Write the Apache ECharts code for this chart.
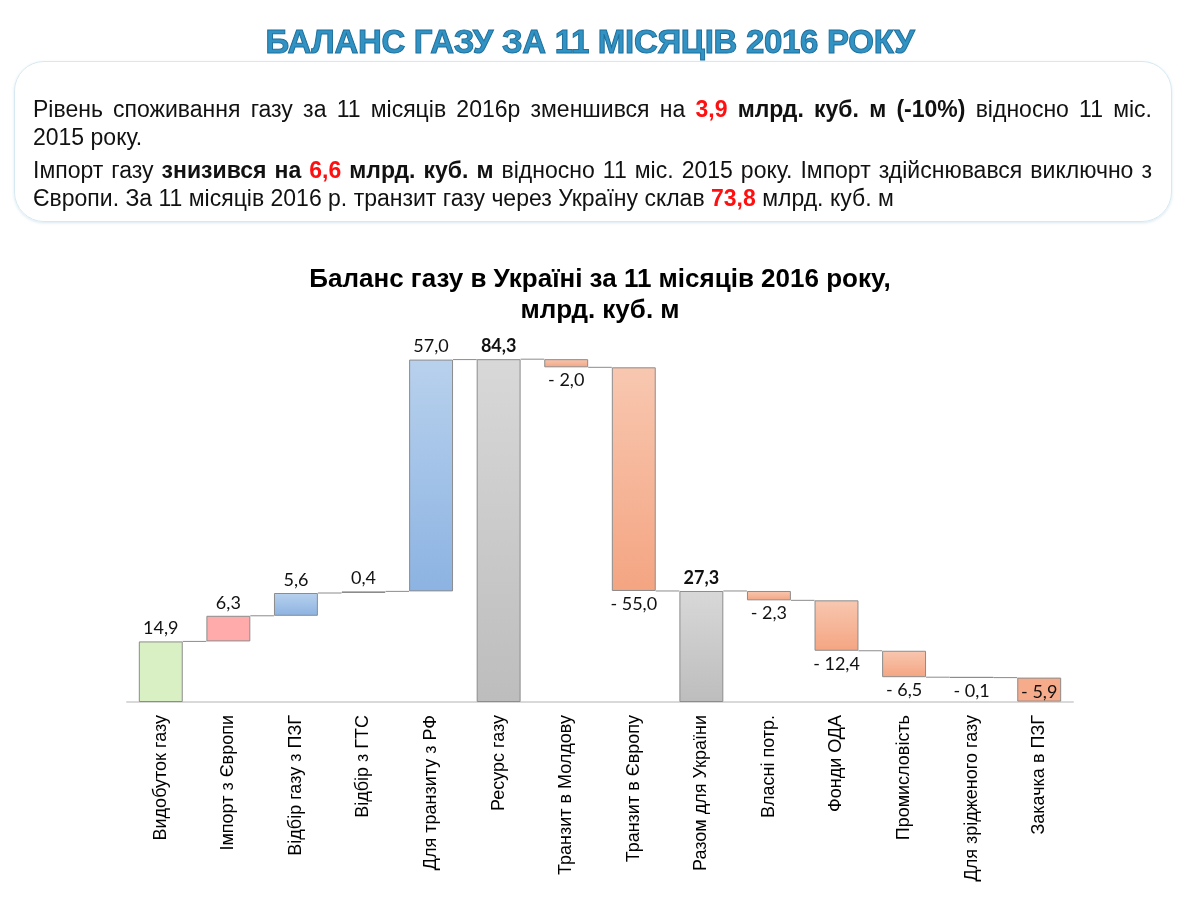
<!DOCTYPE html>
<html><head><meta charset="utf-8">
<script src="https://cdn.jsdelivr.net/npm/echarts@6/dist/echarts.min.js"></script>
<style>
html,body{margin:0;padding:0;background:#fff;width:1200px;height:900px;overflow:hidden;}
#chart{position:absolute;left:0;top:0;width:1200px;height:900px;}
#head{position:absolute;left:0;top:23px;width:1180px;text-align:center;z-index:2;}
#head span{display:inline-block;font-family:"Liberation Sans",Arial,sans-serif;font-weight:bold;font-size:33px;color:#3193c4;-webkit-text-stroke:1px #1f6f9c;letter-spacing:-0.3px;}
#box{position:absolute;left:14px;top:61px;width:1158px;height:161px;border:1.5px solid #d6e8f1;border-radius:30px;box-shadow:0 1px 3px rgba(150,190,210,0.35);z-index:2;box-sizing:border-box;}
#txt{position:absolute;left:33px;top:95px;width:1119px;font-family:"Liberation Sans",Arial,sans-serif;font-size:23px;color:#111;z-index:3;}
#txt div{line-height:28px;white-space:nowrap;}
#txt .j{text-align:justify;text-align-last:justify;}
#txt .p2{margin-top:5px;}
.r{color:#ff1010;font-weight:bold;}
b{font-weight:bold;}
</style></head>
<body>
<div id="chart"></div>
<div id="head"><span>БАЛАНС ГАЗУ ЗА 11 МІСЯЦІВ 2016 РОКУ</span></div>
<div id="box"></div>
<div id="txt">
<div class="j">Рівень споживання газу за 11 місяців 2016р зменшився на <span class="r">3,9</span> <b>млрд. куб. м (-10%)</b> відносно 11 міс.</div>
<div>2015 року.</div>
<div class="j p2">Імпорт газу <b>знизився на</b> <span class="r">6,6</span> <b>млрд. куб. м</b> відносно 11 міс. 2015 року. Імпорт здійснювався виключно з</div>
<div>Європи. За 11 місяців 2016 р. транзит газу через Україну склав <span class="r">73,8</span> млрд. куб. м</div>
</div>
<script>
var categories = ['Видобуток газу','Імпорт з Європи','Відбір газу з ПЗГ','Відбір з ГТС','Для транзиту з РФ','Ресурс газу','Транзит в Молдову','Транзит в Європу','Разом для України','Власні потр.','Фонди ОДА','Промисловість','Для зрідженого газу','Закачка в ПЗГ'];
var values = [14.9, 6.3, 5.6, 0.4, 57.0, 84.3, -2.0, -55.0, 27.3, -2.3, -12.4, -6.5, -0.1, -5.9];
var isTotal = [false,false,false,false,false,true,false,false,true,false,false,false,false,false];
var colorKeys = ['green','pink','blue','blue','blue','gray','salmon','salmon','gray','salmon','salmon','salmon','salmon','salmonSolid'];

function grad(a,b){return {type:'linear',x:0,y:0,x2:0,y2:1,colorStops:[{offset:0,color:a},{offset:1,color:b}]};}
var palette = {
  green:'#d9efc4', pink:'#ffabab', blue:grad('#b8d1ed','#8cb3e2'),
  gray:grad('#d8d8d8','#bdbdbd'), salmon:grad('#f8c7b0','#f4a582'), salmonSolid:'#f6ab8b'
};

var base=[], heights=[], levels=[], running=0;
for (var i=0;i<values.length;i++){
  var v=values[i];
  if (isTotal[i]) { base.push(0); heights.push(v); running=v; }
  else { base.push(running+Math.min(0,v)); heights.push(Math.abs(v)); running+=v; }
  levels.push(running);
}
function fmt(v){ var s=Math.abs(v).toFixed(1).replace('.',','); return v<0?'- '+s:s; }

var barData = heights.map(function(h,i){
  var pos = values[i]>=0 ? 'top' : 'bottom';
  if (i===values.length-1) pos='insideBottom';
  return {
    value:h,
    itemStyle:{color:palette[colorKeys[i]]},
    label:{position:pos, fontWeight:isTotal[i]?'bold':'normal', distance:i===values.length-1?0:4}
  };
});
var connData=[];
for (var k=0;k<values.length-1;k++) connData.push([k, levels[k]]);

var chart = echarts.init(document.getElementById('chart'));
chart.setOption({
  animation:false,
  title:{text:'Баланс газу в Україні за 11 місяців 2016 року,\nмлрд. куб. м', left:'center', top:259,
    textStyle:{fontFamily:'Liberation Sans',fontWeight:'bold',fontSize:26,color:'#000',lineHeight:31}},
  grid:{left:127,right:127,top:336,bottom:198},
  xAxis:{type:'category',data:categories,
    axisLine:{lineStyle:{color:'#d9d9d9',width:2}},axisTick:{show:false},
    axisLabel:{rotate:90,interval:0,margin:13,fontFamily:'Liberation Sans',fontSize:18,color:'#000'}},
  yAxis:{type:'value',min:0,max:90,show:false,splitLine:{show:false}},
  series:[
    {type:'bar',stack:'w',data:base,itemStyle:{color:'transparent'},barCategoryGap:'35%',silent:true},
    {type:'bar',stack:'w',data:barData,
      itemStyle:{borderColor:'#8c8c8c',borderWidth:1},
      label:{show:true,fontFamily:'Lato',fontSize:18,color:'#111',
        formatter:function(p){return fmt(values[p.dataIndex]);}}},
    {type:'custom',data:connData,encode:{x:0,y:1},silent:true,z:1,
      renderItem:function(params,api){
        var c=api.coord([api.value(0),api.value(1)]);
        var cw=api.size([1,0])[0];
        var bw=cw*0.65;
        return {type:'line',shape:{x1:c[0]+bw/2,y1:c[1],x2:c[0]+cw-bw/2,y2:c[1]},
          style:{stroke:'#8c8c8c',lineWidth:1}};
      }}
  ]
});
</script>
</body></html>
